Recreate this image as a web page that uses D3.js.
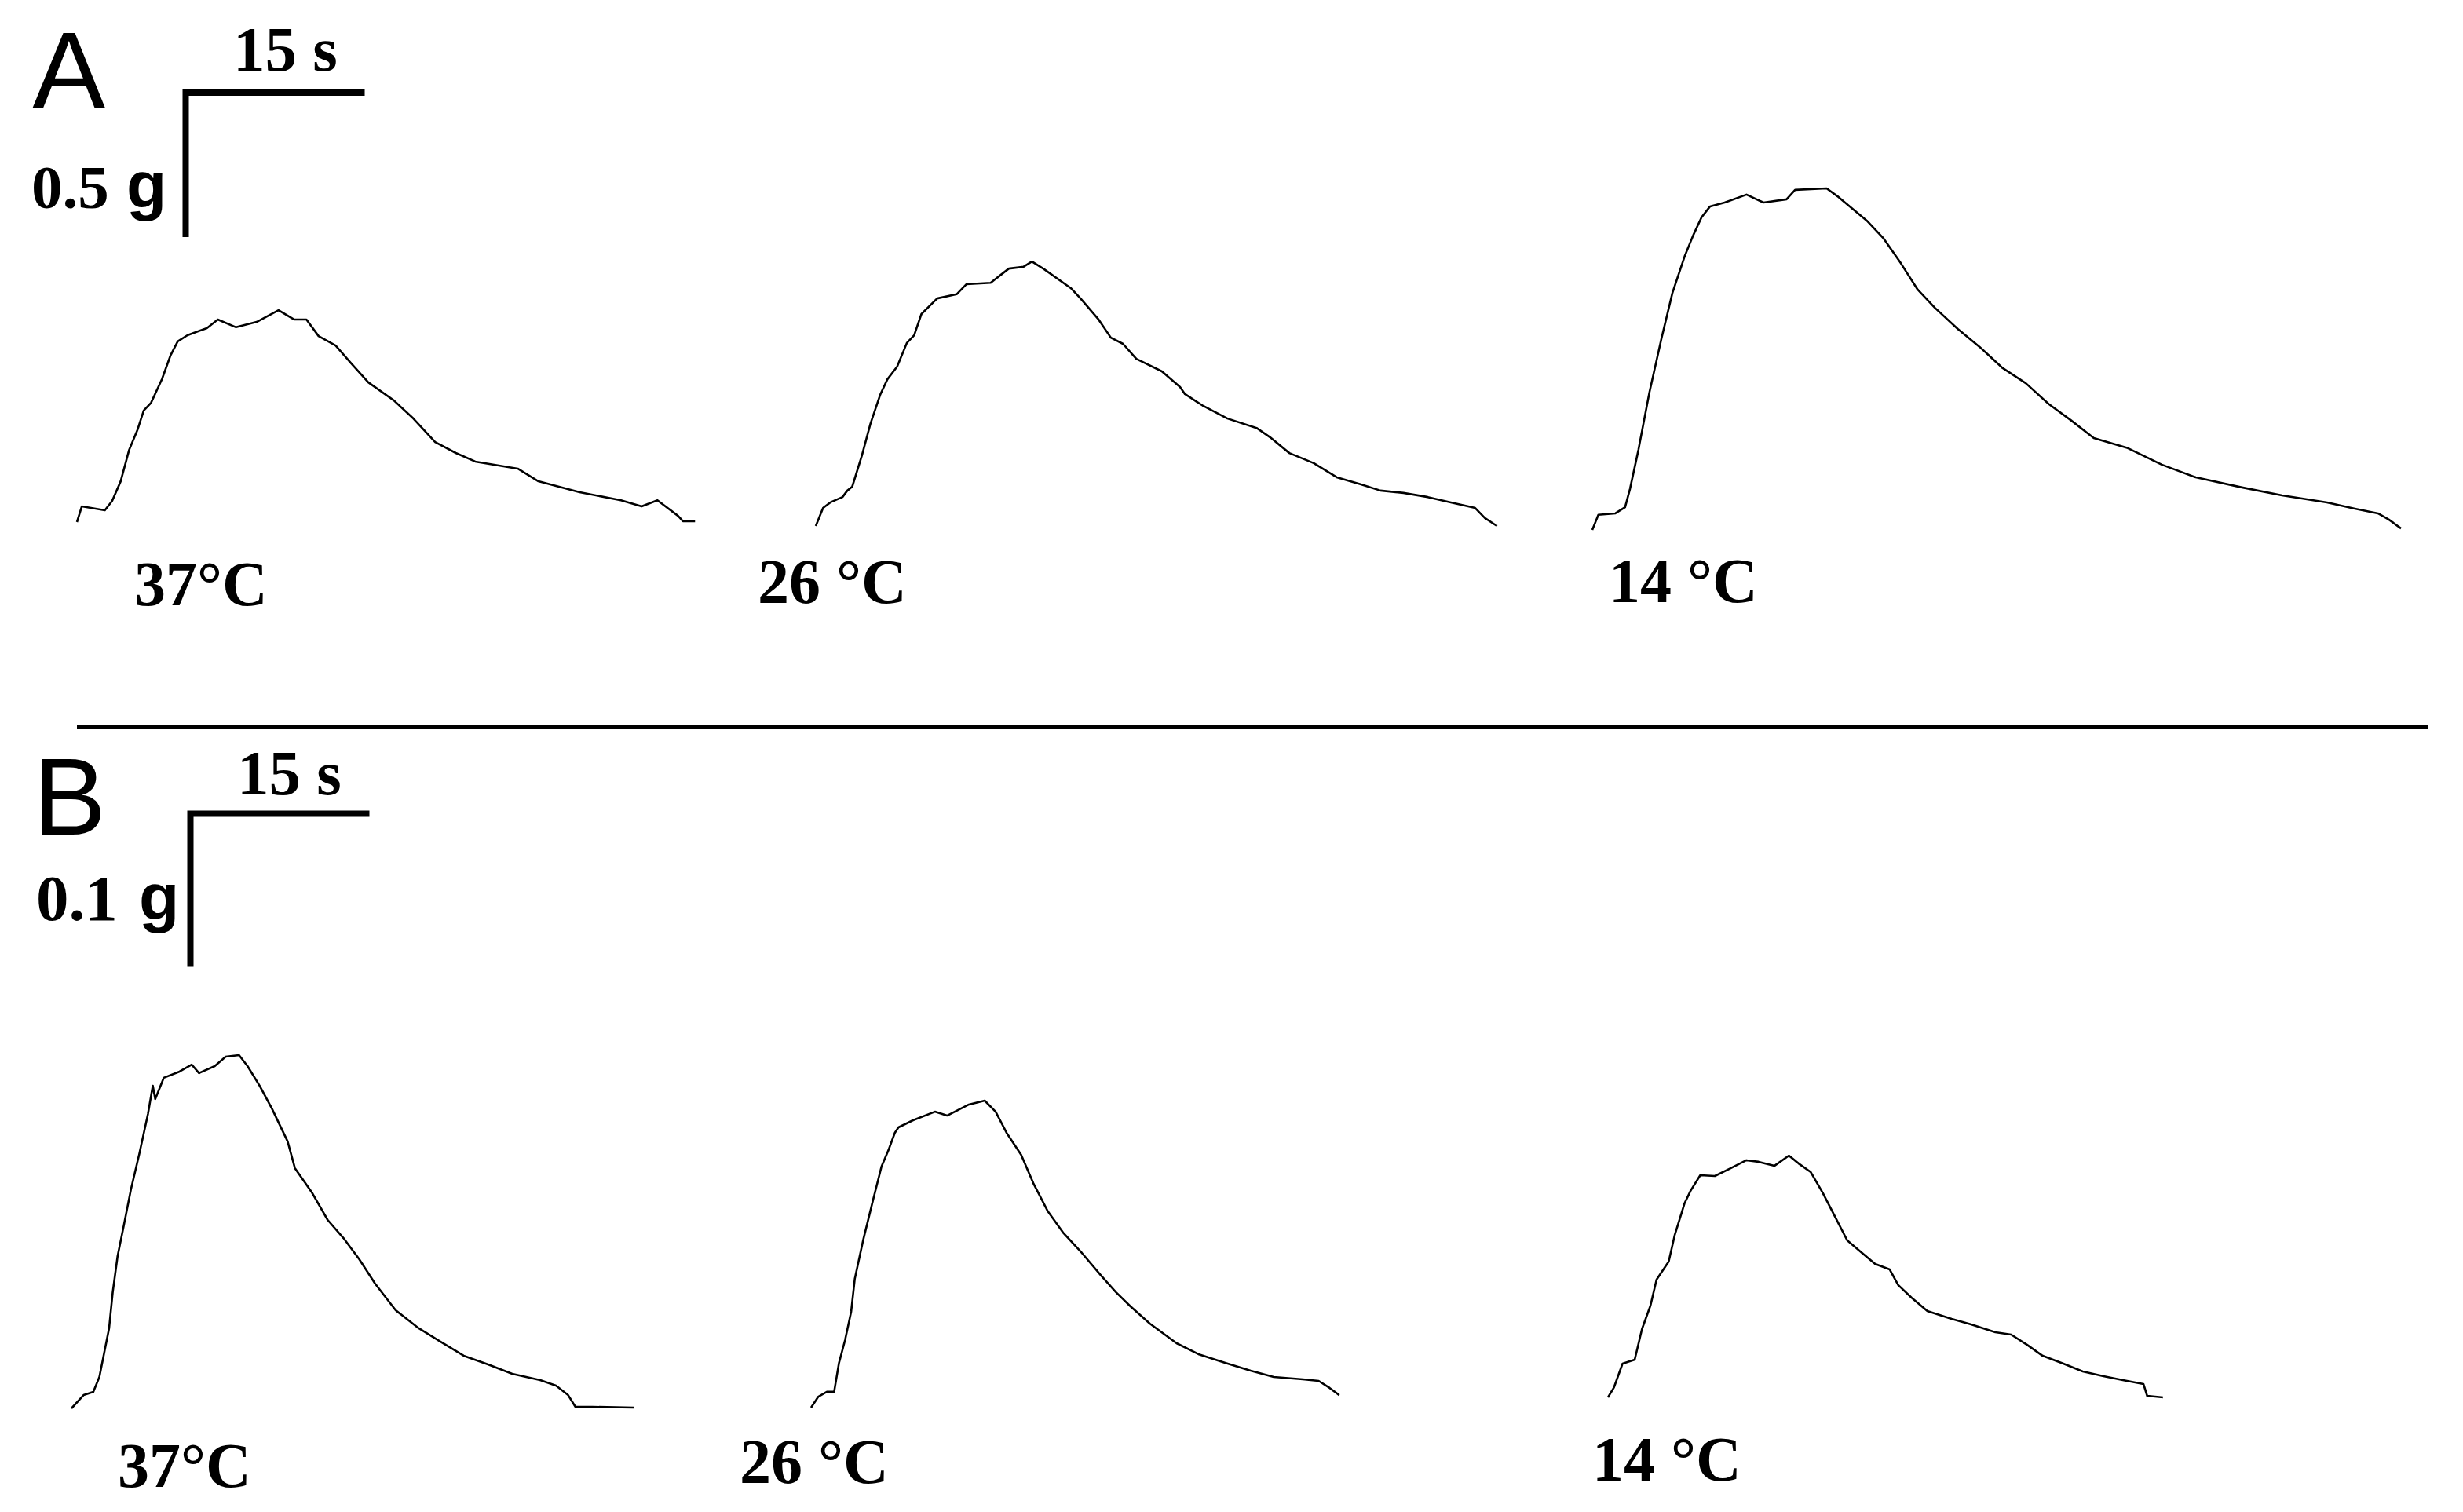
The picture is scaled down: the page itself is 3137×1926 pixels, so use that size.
<!DOCTYPE html>
<html>
<head>
<meta charset="utf-8">
<script src="https://cdn.jsdelivr.net/npm/d3@7"></script>
<style>
  body { margin: 0; background: #fff; }
  svg { display: block; }
  .lbl { font-family: "Liberation Serif", "Times New Roman", serif; font-weight: bold; fill: #000; }
  .panel { font-family: "Liberation Sans", Arial, sans-serif; fill: #000; }
</style>
</head>
<body>
<div id="chart"></div>
<script>
// temperature labels, same order in both panels
const temps = ["37°C", "26 °C", "14 °C"];
const panels = ["A", "B"];
const timeBar = 15;          // s
const forceBars = [0.5, 0.1]; // g

// panel A traces: time (s) from trace start, force (g) above rest
const tA37 = [0, 0.4, 2.3, 2.9, 3.6, 4.3, 5.0, 5.5, 6.1, 7.0, 7.7, 8.3, 9.1, 10.7, 11.6, 13.1, 14.8, 16.6, 17.9, 18.9, 19.9, 21.3, 22.6, 24.0, 26.1, 27.7, 29.5, 31.2, 32.8, 36.3, 38.0, 41.4, 44.8, 46.5, 47.8, 49.5, 49.9, 50.9];
const fA37 = [0, 0.053, 0.040, 0.072, 0.138, 0.245, 0.314, 0.378, 0.404, 0.484, 0.564, 0.612, 0.633, 0.657, 0.686, 0.660, 0.678, 0.718, 0.686, 0.686, 0.630, 0.598, 0.537, 0.473, 0.412, 0.351, 0.271, 0.234, 0.205, 0.181, 0.138, 0.101, 0.074, 0.053, 0.074, 0.021, 0.003, 0.003];

const tA26 = [0, 0.6, 1.2, 2.2, 2.6, 3.0, 3.8, 4.5, 5.3, 5.9, 6.7, 7.5, 8.1, 8.7, 10.0, 11.6, 12.4, 14.4, 15.9, 17.1, 17.8, 18.8, 21.0, 21.8, 23.3, 24.3, 25.3, 26.4, 28.5, 30.0, 30.4, 31.9, 33.9, 36.3, 37.4, 39.0, 41.0, 42.9, 44.9, 46.5, 48.4, 50.4, 52.3, 54.3, 55.1, 56.1];
const fA26 = [0, 0.061, 0.080, 0.098, 0.120, 0.133, 0.239, 0.346, 0.444, 0.497, 0.540, 0.620, 0.646, 0.718, 0.771, 0.785, 0.819, 0.824, 0.872, 0.878, 0.896, 0.870, 0.806, 0.771, 0.699, 0.638, 0.617, 0.566, 0.524, 0.471, 0.447, 0.407, 0.364, 0.332, 0.301, 0.247, 0.213, 0.165, 0.141, 0.120, 0.112, 0.098, 0.080, 0.061, 0.027, 0];

const tA14 = [0, 0.5, 1.9, 2.7, 3.1, 3.8, 4.7, 5.7, 6.6, 7.6, 8.3, 9.0, 9.7, 10.9, 12.7, 14.1, 16.0, 16.7, 19.3, 20.2, 22.6, 24.0, 25.4, 26.8, 28.2, 30.1, 31.9, 33.8, 35.7, 37.6, 39.4, 41.3, 44.1, 46.9, 49.7, 53.5, 56.8, 60.5, 62.8, 64.7, 65.6, 66.6];
const fA14 = [0, 0.051, 0.056, 0.077, 0.138, 0.271, 0.465, 0.649, 0.803, 0.926, 0.997, 1.059, 1.096, 1.109, 1.136, 1.109, 1.120, 1.152, 1.157, 1.130, 1.048, 0.987, 0.904, 0.814, 0.753, 0.681, 0.620, 0.548, 0.497, 0.426, 0.372, 0.311, 0.277, 0.221, 0.178, 0.144, 0.117, 0.093, 0.072, 0.056, 0.035, 0.005];

// panel B traces
const tB37 = [0, 1.0, 1.8, 2.3, 3.1, 3.4, 3.8, 4.3, 4.9, 5.6, 6.3, 6.7, 6.9, 7.6, 8.9, 9.9, 10.5, 11.8, 12.7, 13.8, 14.5, 15.5, 16.5, 17.8, 18.4, 19.8, 21.1, 22.4, 23.7, 25.0, 26.7, 28.6, 30.3, 32.3, 34.3, 36.3, 38.6, 39.9, 40.9, 41.5, 42.9, 46.3];
const fB37 = [0, 0.0085, 0.0106, 0.0201, 0.0513, 0.0744, 0.0975, 0.1166, 0.1402, 0.1633, 0.1884, 0.2065, 0.1980, 0.2116, 0.2156, 0.2201, 0.2146, 0.2191, 0.2251, 0.2261, 0.2191, 0.2065, 0.1920, 0.1709, 0.1538, 0.1382, 0.1206, 0.1090, 0.0955, 0.0799, 0.0628, 0.0513, 0.0432, 0.0337, 0.0281, 0.0221, 0.0181, 0.0146, 0.0085, 0.0010, 0.0010, 0.0005];

const tB26 = [0, 0.6, 1.3, 1.9, 2.3, 2.8, 3.3, 3.6, 4.3, 5.1, 5.8, 6.4, 6.9, 7.2, 8.4, 10.2, 11.2, 13.0, 14.3, 15.2, 16.1, 17.3, 18.3, 19.5, 20.8, 22.3, 23.9, 25.1, 26.3, 27.9, 30.1, 31.9, 34.1, 36.2, 38.1, 40.5, 41.8, 42.7, 43.5];
const fB26 = [0, 0.0070, 0.0101, 0.0101, 0.0286, 0.0432, 0.0613, 0.0824, 0.1075, 0.1327, 0.1543, 0.1653, 0.1759, 0.1794, 0.1839, 0.1894, 0.1869, 0.1940, 0.1965, 0.1894, 0.1759, 0.1618, 0.1437, 0.1256, 0.1116, 0.0990, 0.0844, 0.0739, 0.0648, 0.0538, 0.0412, 0.0342, 0.0286, 0.0236, 0.0196, 0.0181, 0.0171, 0.0126, 0.0080];

const tB14 = [0, 0.5, 1.2, 2.2, 2.8, 3.5, 4.0, 5.0, 5.5, 6.3, 6.8, 7.6, 8.8, 10.1, 11.4, 12.4, 13.7, 14.9, 15.7, 16.7, 17.7, 18.7, 19.7, 21.0, 22.0, 23.2, 23.9, 25.0, 26.3, 28.3, 29.9, 31.9, 33.2, 34.5, 35.8, 37.5, 39.1, 40.8, 42.4, 44.1, 44.4, 45.7];
const fB14 = [0, 0.0065, 0.0216, 0.0241, 0.0437, 0.0588, 0.0754, 0.0869, 0.1040, 0.1241, 0.1322, 0.1422, 0.1417, 0.1467, 0.1518, 0.1508, 0.1482, 0.1548, 0.1497, 0.1442, 0.1307, 0.1156, 0.1005, 0.0920, 0.0854, 0.0819, 0.0719, 0.0638, 0.0553, 0.0503, 0.0467, 0.0417, 0.0402, 0.0337, 0.0266, 0.0216, 0.0166, 0.0136, 0.0111, 0.0085, 0.0010, 0];

const tracesT = [[tA37, tA26, tA14], [tB37, tB26, tB14]];
const tracesF = [[fA37, fA26, fA14], [fB37, fB26, fB14]];

// ---- layout ----
const width = 3137, height = 1926;

// where each trace starts (rest level) and where its label sits
const origins = [
  [[98, 665], [1039, 670], [2028, 675]],
  [[91, 1794], [1033, 1793], [2048, 1780]]
];
const labelPos = [
  [[171, 771], [965, 768], [2049, 767]],
  [[150, 1894], [942, 1889], [2028, 1886]]
];
// scale bar corner, panel letter, bar text positions
const barCorner = [[236.5, 118], [242.5, 1036.5]];
const letterPos = [[41, 138], [42, 1063]];
const timeTextPos = [[297, 90], [302, 1012]];
const forceTextPos = [[40, 265, 161], [46, 1172, 177]];
const forceFont = [79, 83];

const x = d3.scaleLinear().domain([0, 15]).range([0, 232]);
const yScales = [
  d3.scaleLinear().domain([0, 0.5]).range([0, 188]),
  d3.scaleLinear().domain([0, 0.1]).range([0, 199])
];

const svg = d3.select("#chart")
  .append("svg")
  .attr("width", width)
  .attr("height", height);

svg.append("rect").attr("width", width).attr("height", height).attr("fill", "#fff");

panels.forEach((p, pi) => {
  const y = yScales[pi];
  const g = svg.append("g").attr("class", "panel-" + p);

  // panel letter
  g.append("text")
    .attr("class", "panel")
    .attr("x", letterPos[pi][0])
    .attr("y", letterPos[pi][1])
    .attr("font-size", 140)
    .text(p);

  // scale bar (time horizontal, force vertical)
  const [cx, cy] = barCorner[pi];
  g.append("path")
    .attr("d", `M${cx - 4 + x(timeBar)},${cy} H${cx} V${cy - 4 + y(forceBars[pi])}`)
    .attr("fill", "none")
    .attr("stroke", "#000")
    .attr("stroke-width", 8)
    .attr("stroke-linejoin", "miter");

  g.append("text")
    .attr("class", "lbl")
    .attr("x", timeTextPos[pi][0])
    .attr("y", timeTextPos[pi][1])
    .attr("font-size", 81)
    .text(timeBar + " s");

  const ft = forceTextPos[pi];
  g.append("text")
    .attr("class", "lbl")
    .attr("x", ft[0])
    .attr("y", ft[1])
    .attr("font-size", forceFont[pi])
    .text(forceBars[pi]);
  g.append("text")
    .attr("x", ft[2])
    .attr("y", ft[1])
    .attr("font-family", "Liberation Sans, Arial, sans-serif")
    .attr("font-weight", "bold")
    .attr("font-size", 84)
    .text("g");

  // traces
  temps.forEach((label, i) => {
    const [ox, oy] = origins[pi][i];
    const ts = tracesT[pi][i], fs = tracesF[pi][i];
    const line = d3.line()
      .x(d => ox + x(d[0]))
      .y(d => oy - y(d[1]));

    g.append("path")
      .datum(d3.zip(ts, fs))
      .attr("d", line)
      .attr("fill", "none")
      .attr("stroke", "#000")
      .attr("stroke-width", 2.6)
      .attr("stroke-linejoin", "round");

    g.append("text")
      .attr("class", "lbl")
      .attr("x", labelPos[pi][i][0])
      .attr("y", labelPos[pi][i][1])
      .attr("font-size", 80)
      .text(label);
  });
});

// divider between the panels
svg.append("line")
  .attr("x1", 98).attr("x2", 3092)
  .attr("y1", 926).attr("y2", 926)
  .attr("stroke", "#000")
  .attr("stroke-width", 4);
</script>
</body>
</html>
